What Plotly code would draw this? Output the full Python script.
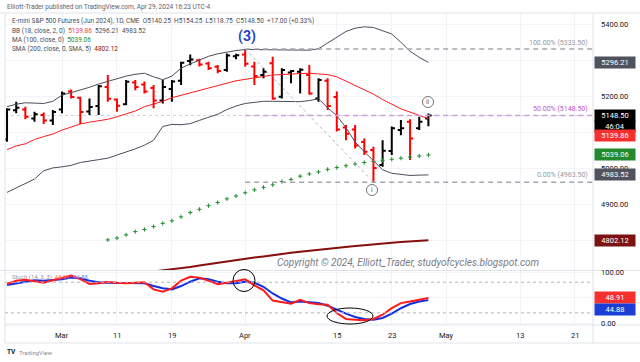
import plotly.graph_objects as go
import pandas as pd

# ---------------- data ----------------
dates = ["2024-02-22", "2024-02-23", "2024-02-26", "2024-02-27", "2024-02-28", "2024-02-29",
         "2024-03-01", "2024-03-04", "2024-03-05", "2024-03-06", "2024-03-07", "2024-03-08",
         "2024-03-11", "2024-03-12", "2024-03-13", "2024-03-14", "2024-03-15",
         "2024-03-18", "2024-03-19", "2024-03-20", "2024-03-21", "2024-03-22",
         "2024-03-25", "2024-03-26", "2024-03-27", "2024-03-28",
         "2024-04-01", "2024-04-02", "2024-04-03", "2024-04-04", "2024-04-05",
         "2024-04-08", "2024-04-09", "2024-04-10", "2024-04-11", "2024-04-12",
         "2024-04-15", "2024-04-16", "2024-04-17", "2024-04-18", "2024-04-19",
         "2024-04-22", "2024-04-23", "2024-04-24", "2024-04-25", "2024-04-26",
         "2024-04-29"]

opens = [5082, 5163, 5165, 5140, 5150, 5135, 5165, 5215, 5198, 5160, 5175, 5228, 5193, 5180,
         5240, 5235, 5225, 5190, 5222, 5245, 5300, 5302, 5293, 5284, 5275, 5313, 5318, 5285,
         5261, 5294, 5201, 5268, 5270, 5261, 5196, 5245, 5200, 5115, 5110, 5075, 5053, 5011,
         5050, 5108, 5131, 5113, 5140.25]
highs = [5169, 5187, 5173, 5159, 5157, 5164, 5215, 5221, 5201, 5196, 5233, 5261, 5196, 5247,
         5247, 5243, 5233, 5247, 5247, 5298, 5318, 5306, 5298, 5289, 5321, 5320, 5333.5, 5298,
         5280, 5312, 5280, 5275, 5280, 5289, 5252, 5252, 5215, 5122, 5122, 5085, 5062, 5080,
         5118, 5136, 5138, 5145, 5154.25]
lows = [5076, 5155, 5138, 5131, 5125, 5122, 5155, 5196, 5125, 5150, 5150, 5187, 5159, 5178,
        5219, 5210, 5169, 5182, 5187, 5233, 5288, 5285, 5275, 5266, 5270, 5305, 5284, 5233,
        5252, 5192, 5196, 5238, 5210, 5206, 5187, 5164, 5104, 5080, 5057, 5039, 4963.5, 5006,
        5039, 5094, 5025, 5108, 5118.75]
closes = [5165, 5170, 5145, 5152, 5135, 5158, 5210, 5200, 5158, 5172, 5230, 5195, 5176, 5242,
          5228, 5215, 5190, 5228, 5243, 5295, 5304, 5290, 5280, 5272, 5315, 5316, 5292, 5258,
          5270, 5196, 5275, 5272, 5276, 5210, 5247, 5175, 5110, 5098, 5065, 5048, 5003, 5051,
          5113, 5113, 5085, 5131.5, 5148.5]

bb_basis = [5054, 5064, 5070, 5082, 5090, 5097, 5108, 5117, 5125, 5130, 5134, 5138, 5145, 5153,
            5161, 5173, 5180, 5188, 5198, 5205, 5212, 5219, 5226, 5233, 5238, 5245, 5249, 5254,
            5257, 5261, 5263, 5264, 5265, 5266, 5264, 5262, 5256, 5244, 5233, 5221, 5208, 5193,
            5180, 5167, 5158, 5150, 5139.86]
bb_upper = [5173, 5180, 5184, 5182, 5182, 5188, 5205, 5212, 5219, 5227, 5236, 5244, 5250, 5258,
            5263, 5266, 5256, 5248, 5258, 5280, 5292, 5303, 5313, 5320, 5325, 5329, 5332, 5332,
            5332, 5332, 5332, 5331, 5331, 5330, 5334, 5350, 5368, 5382, 5391, 5395, 5393, 5385,
            5375, 5352, 5327, 5310, 5296.21]
bb_lower = [4935, 4948, 4960, 4972, 4995, 5003, 5006, 5010, 5018, 5023, 5026, 5030, 5038, 5047,
            5056, 5066, 5080, 5118, 5124, 5123, 5126, 5135, 5143, 5152, 5165, 5175, 5182, 5186,
            5188, 5188, 5188, 5187, 5187, 5190, 5195, 5170, 5148, 5115, 5075, 5048, 5022, 4998,
            4988, 4984, 4982, 4983, 4983.52]
ma100 = [None, None, None, None, None, None, None, None, None, None, None,
         4803, 4808, 4817, 4826, 4832, 4840, 4849, 4856, 4867, 4879, 4888, 4898, 4907, 4917,
         4925, 4934, 4942, 4949, 4956, 4965, 4971, 4980, 4986, 4992, 4999, 5004, 5009, 5014,
         5018, 5021, 5024, 5027, 5030, 5033, 5036, 5039.06]
sma200 = [4660, 4664, 4667, 4671, 4674, 4678, 4682, 4685, 4689, 4692, 4696, 4699, 4703, 4706,
          4709, 4712, 4714, 4717, 4720, 4724, 4728, 4732, 4736, 4740, 4743, 4747, 4750, 4754,
          4757, 4761, 4764, 4767, 4770, 4773, 4776, 4778, 4781, 4783, 4786, 4788, 4791, 4793,
          4795, 4797, 4799, 4801, 4802.12]
stoch_k = [76.5, 83, 85, 82, 79, 84, 89, 93, 86, 76.5, 78, 80.5, 79, 78, 79, 80, 66, 61.5, 68, 83,
           90.8, 89, 83, 76, 79, 83, 85.6, 74, 64, 44, 40.5, 38, 45.5, 39, 37, 36, 19.6, 8, 6.5,
           5.2, 8, 16.3, 29, 39, 42, 45, 48.91]
stoch_d = [74.5, 78, 82, 84, 83, 84, 85.6, 89, 87.6, 83, 80, 79, 79, 79, 79, 78, 72.5, 68, 66,
           72.5, 81, 87.6, 86, 81, 78, 78, 81, 79, 71, 58, 48, 40.5, 42, 40.5, 39.5, 34, 26, 18.3,
           11.8, 8, 6.5, 9.8, 18.3, 29, 37.3, 42, 44.88]

tick_dates = ["2024-03-01", "2024-03-11", "2024-03-19", "2024-04-01", "2024-04-15",
              "2024-04-23", "2024-05-01", "2024-05-13", "2024-05-21"]
tick_text = ["Mar", "11", "19", "Apr", "15", "23", "May", "13", "21"]

price_ticks = [4900, 5000, 5200, 5400]
price_tick_text = ["4900.00", "5000.00", "5200.00", "5400.00"]

fib_start, fib_end = "2024-04-01", "2024-04-19"
fib_prices = [5333.5, 5148.5, 4963.5]
fib_labels = ["100.00% (5333.50)", "50.00% (5148.50)", "0.00% (4963.50)"]

# ---------------- axis positions (trading sessions) ----------------
sessions = [d.strftime("%Y-%m-%d") for d in pd.bdate_range("2024-02-22", "2024-05-31")]
sessions = [d for d in sessions if d not in ("2024-03-29", "2024-05-27")]
pos = {d: i for i, d in enumerate(sessions)}
xb = [pos[d] for d in dates]
tickvals = [pos[d] for d in tick_dates]
XR = [-0.2227, 63.97]

PL, PR, PT, PB = 5, 593, 13, 325
def px(xp):
    return (xp - PL) / (PR - PL)
def py(yp):
    return (PB - yp) / (PB - PT)

FONT = "Roboto"

fig = go.Figure()
fig.add_trace(go.Scatter(x=xb, y=sma200, mode="lines", line=dict(color="#880e0e", width=2),
                         xaxis="x", yaxis="y", hoverinfo="skip"))
fig.add_trace(go.Scatter(x=xb, y=bb_upper, mode="lines", line=dict(color="#4a4e5a", width=1),
                         xaxis="x", yaxis="y"))
fig.add_trace(go.Scatter(x=xb, y=bb_lower, mode="lines", line=dict(color="#4a4e5a", width=1),
                         xaxis="x", yaxis="y"))
fig.add_trace(go.Scatter(x=xb, y=bb_basis, mode="lines", line=dict(color="#ff1a1a", width=1),
                         xaxis="x", yaxis="y"))
fig.add_trace(go.Scatter(x=xb, y=ma100, mode="markers",
                         marker=dict(symbol="cross-thin", size=3, line=dict(width=1, color="#1c8c2a")),
                         xaxis="x", yaxis="y"))
fig.add_trace(go.Ohlc(x=xb, open=opens, high=highs, low=lows, close=closes,
                      increasing=dict(line=dict(color="#000000", width=2)),
                      decreasing=dict(line=dict(color="#ff0000", width=2)),
                      tickwidth=0.35, xaxis="x", yaxis="y"))
fig.add_trace(go.Scatter(x=xb, y=stoch_d, mode="lines", line=dict(color="#1030e6", width=2),
                         xaxis="x2", yaxis="y2"))
fig.add_trace(go.Scatter(x=xb, y=stoch_k, mode="lines", line=dict(color="#ff1a1a", width=2),
                         xaxis="x2", yaxis="y2"))

shapes = []
border = "#e0e3eb"
# frame lines
for yl, x0 in ((13, 0), (270.5, 0), (325, 5), (343, 5)):
    shapes.append(dict(type="line", xref="paper", yref="paper", x0=px(x0), x1=px(640), y0=py(yl), y1=py(yl),
                       line=dict(color=border, width=1)))
for xl in (5, 593):
    shapes.append(dict(type="line", xref="paper", yref="paper", x0=px(xl), x1=px(xl), y0=py(13), y1=py(343),
                       line=dict(color=border, width=1)))
# last-price line
shapes.append(dict(type="line", xref="paper", yref="y", x0=0, x1=1, y0=closes[-1], y1=closes[-1],
                   line=dict(color="#d6cfe0", width=1, dash="3px,3px"), layer="below"))
# fib levels
fib_colors = ["#a3a6af", "#cf9ddb", "#a3a6af"]
for p, c in zip(fib_prices, fib_colors):
    shapes.append(dict(type="line", xref="x", yref="y", x0=pos[fib_start], x1=XR[1], y0=p, y1=p,
                       line=dict(color=c, width=1.5, dash="5px,4px")))
shapes.append(dict(type="line", xref="x", yref="y", x0=pos[fib_start], x1=pos[fib_end],
                   y0=fib_prices[0], y1=fib_prices[2], line=dict(color="#b2b5be", width=1, dash="dot")))
# stoch bands
for lv in (80, 20):
    shapes.append(dict(type="line", xref="paper", yref="y2", x0=0, x1=1, y0=lv, y1=lv,
                       line=dict(color="#b2b5be", width=1, dash="3px,3px")))
# circles
shapes.append(dict(type="circle", xref="paper", yref="paper", x0=px(233), x1=px(255),
                   y0=py(291.5), y1=py(269.5), line=dict(color="#000000", width=1)))
shapes.append(dict(type="circle", xref="paper", yref="paper", x0=px(327), x1=px(373),
                   y0=py(324), y1=py(308), line=dict(color="#000000", width=1)))
shapes.append(dict(type="circle", xref="paper", yref="paper", x0=px(422.5), x1=px(433.5),
                   y0=py(107.5), y1=py(96.5), line=dict(color="#555555", width=0.8)))
shapes.append(dict(type="circle", xref="paper", yref="paper", x0=px(366.5), x1=px(377.5),
                   y0=py(195.5), y1=py(184.5), line=dict(color="#555555", width=0.8)))

ann = []
def text(xp, yp, t, size=6.5, color="#4a4d57", anchor="left", **kw):
    ann.append(dict(x=px(xp), y=py(yp), xref="paper", yref="paper", text=t, showarrow=False,
                    xanchor=anchor, yanchor="middle", font=dict(family=FONT, size=size, color=color), **kw))

S = "\u00a0\u00a0"
text(5, 7, "Elliott-Trader published on TradingView.com, Apr 29, 2024 16:23 UTC-4", 6.5, "#5d606b")
text(10, 21, "E-mini S&P 500 Futures (Jun 2024), 1D, CME" + S + "O5140.25" + S + "H5154.25" + S +
     "L5118.75" + S + "C5148.50" + S + "+17.00 (+0.33%)", 6.5, "#4a4d57")
text(10, 30.5, "BB (18, close, 2, 0)" + S + "<span style='color:#f23645'>5139.86</span>" + S +
     "5296.21" + S + "4983.52", 6.5, "#4a4d57")
text(10, 40, "MA (100, close, 0)" + S + "<span style='color:#1c8c2a'>5039.06</span>", 6.5, "#4a4d57")
text(10, 49, "SMA (200, close, 0, SMA, 5)" + S + "<span style='color:#880e0e'>4802.12</span>", 6.5, "#4a4d57")
text(247, 37, "<b>(3)</b>", 14, "#1e3fc8", anchor="center")
text(590, 43, fib_labels[0], 7, "#9598a1", anchor="right")
text(590, 108.5, fib_labels[1], 7, "#bf55d6", anchor="right")
text(590, 175.5, fib_labels[2], 7, "#9598a1", anchor="right")
text(428, 102, "ii", 6.5, "#555555", anchor="center")
text(372, 190, "i", 6.5, "#555555", anchor="center")
text(275, 262, "<i>Copyright © 2024, Elliott_Trader, studyofcycles.blogspot.com</i>", 10, "#787b86")
text(10, 277, "Stoch (14, 3, 3)" + S + "<span style='color:#ff8080'>48.91</span>" + S +
     "<span style='color:#8090f0'>44.88</span>", 6, "#9598a1")
text(5, 352, "<b>TV</b>", 6.5, "#131722")
text(17, 352, "TradingView", 6, "#8a8d96")

# date labels
for tv, tt in zip(tickvals, tick_text):
    ann.append(dict(x=tv, y=py(335.5), xref="x2", yref="paper", text=tt, showarrow=False,
                    xanchor="center", yanchor="middle", font=dict(family=FONT, size=7.5, color="#131722")))

# right axis plain labels
for v, t in zip(price_ticks, price_tick_text):
    ann.append(dict(x=px(599), y=v, xref="paper", yref="y", text=t, showarrow=False, xanchor="left",
                    yanchor="middle", font=dict(family=FONT, size=7.5, color="#131722")))
for v, t in ((100, "100.00"), (0, "0.00")):
    ann.append(dict(x=px(599), y=v, xref="paper", yref="y2", text=t, showarrow=False, xanchor="left",
                    yanchor="middle", font=dict(family=FONT, size=7.5, color="#131722")))

def box(v, t, bg, yref="y", shift=0):
    ann.append(dict(x=px(593.5), y=v, xref="paper", yref=yref, text=t, showarrow=False, xanchor="left",
                    yanchor="middle", yshift=shift, width=38, height=9, bgcolor=bg, borderpad=1,
                    align="center", font=dict(family=FONT, size=7.5, color="#ffffff")))

box(bb_upper[-1], "5296.21", "#50535e")
box(closes[-1], "5148.50", "#000000")
box(closes[-1], "46:04", "#000000", shift=-11)
box(bb_basis[-1], "5139.86", "#f5302f", shift=-17)
box(ma100[-1], "5039.06", "#23892d")
box(bb_lower[-1], "4983.52", "#50535e")
box(sma200[-1], "4802.12", "#7d1212")
box(stoch_k[-1], "48.91", "#f5302f", yref="y2", shift=1)
box(stoch_d[-1], "44.88", "#1b3fd6", yref="y2", shift=-9)

fig.update_layout(
    width=640, height=362, autosize=False,
    margin=dict(l=PL, r=640 - PR, t=PT, b=362 - PB),
    paper_bgcolor="white", plot_bgcolor="white", showlegend=False,
    font=dict(family=FONT),
    xaxis=dict(domain=[0, 1], range=XR, anchor="y", showticklabels=False, tickvals=tickvals,
               showgrid=True, gridcolor="#f0f3fa", zeroline=False, rangeslider=dict(visible=False),
               showline=False),
    xaxis2=dict(domain=[0, 1], range=XR, anchor="y2", matches="x", tickvals=tickvals, ticktext=tick_text,
                showticklabels=False, showgrid=True, gridcolor="#f0f3fa",
                zeroline=False, ticks="", showline=False),
    yaxis=dict(domain=[(PB - 270) / (PB - PT), 1], range=[4719.4, 5433.3], side="right",
               showticklabels=False, tick0=0, dtick=100, gridcolor="#f3f4f8", zeroline=False, anchor="x"),
    yaxis2=dict(domain=[0, (PB - 271) / (PB - PT)], range=[-3.9, 102], side="right", tickvals=[0, 50, 100],
                showticklabels=False, gridcolor="#f3f4f8", zeroline=False, anchor="x2"),
    shapes=shapes, annotations=ann,
)

fig.write_html("out.html", config={"displayModeBar": False},
               post_script="document.body.style.margin='0px';document.body.style.overflow='hidden';")
